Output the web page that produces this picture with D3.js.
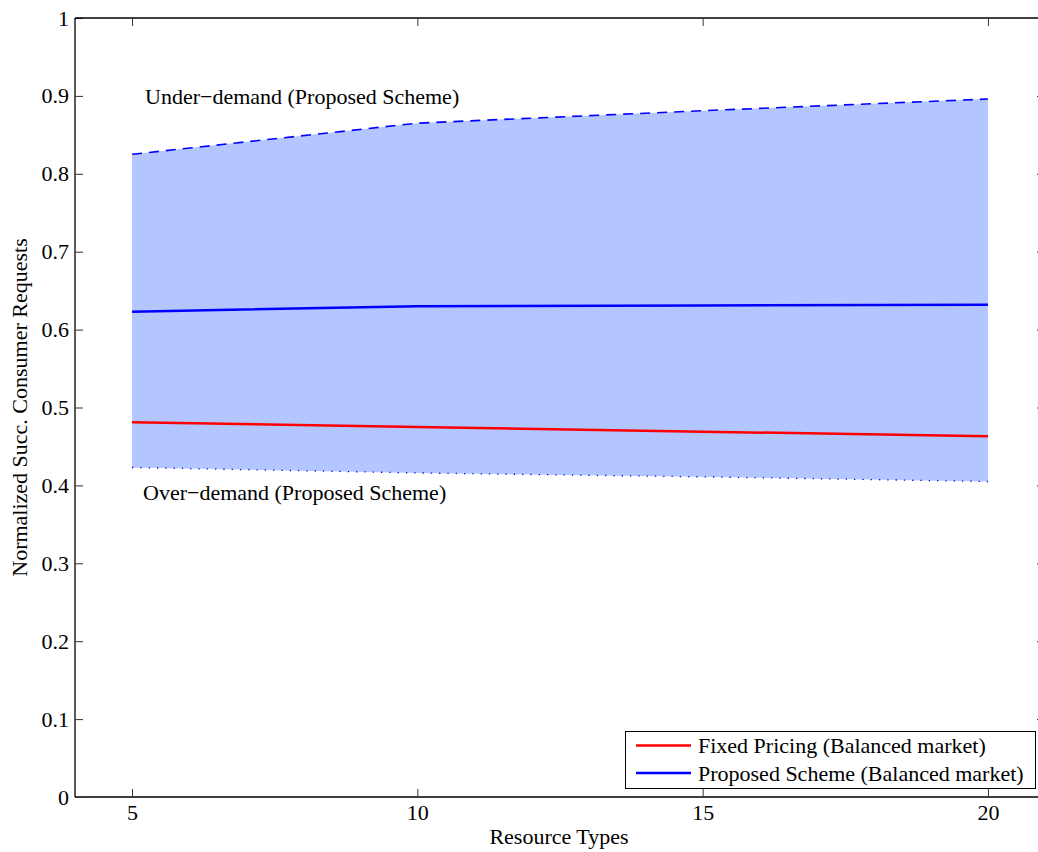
<!DOCTYPE html>
<html><head><meta charset="utf-8">
<script src="https://cdn.jsdelivr.net/npm/d3@7"></script>
<style>body{margin:0;background:#fff}svg{display:block}text{font-family:"Liberation Serif","DejaVu Serif",serif !important;fill:#000}</style>
</head><body><svg id="c" width="1038" height="852"></svg>
<script>
const resourceTypes = [5, 10, 15, 20];
const underDemand = [0.825, 0.865, 0.881, 0.896];
const overDemand = [0.423, 0.416, 0.411, 0.405];
const fixedPricing = [0.481, 0.475, 0.469, 0.463];
const proposedScheme = [0.623, 0.630, 0.631, 0.632];
const xTicks = [5, 10, 15, 20];
const yTicks = [0, 0.1, 0.2, 0.3, 0.4, 0.5, 0.6, 0.7, 0.8, 0.9, 1];

const svg = d3.select("#c");
const L = 75, R = 1045, T = 18, B = 797;
const x = d3.scaleLinear().domain([4, 21]).range([L, R]);
const y = d3.scaleLinear().domain([0, 1]).range([B, T]);

const band = resourceTypes.map((r, i) => ({r, hi: underDemand[i], lo: overDemand[i]}));
svg.append("path").datum(band)
  .attr("d", d3.area().x(d => x(d.r)).y0(d => y(d.lo)).y1(d => y(d.hi)))
  .attr("fill", "#b3c6ff").attr("stroke", "none");

const line = d3.line().x((d, i) => x(resourceTypes[i])).y(d => y(d));
svg.append("path").datum(underDemand).attr("d", line).attr("fill", "none")
  .attr("stroke", "#0000ff").attr("stroke-width", 1.6).attr("stroke-dasharray", "10,7");
svg.append("path").datum(overDemand).attr("d", line).attr("fill", "none")
  .attr("stroke", "#0000ff").attr("stroke-width", 1.3).attr("stroke-dasharray", "1.3,7");
svg.append("path").datum(fixedPricing).attr("d", line).attr("fill", "none")
  .attr("stroke", "#ff0000").attr("stroke-width", 2.5);
svg.append("path").datum(proposedScheme).attr("d", line).attr("fill", "none")
  .attr("stroke", "#0000ff").attr("stroke-width", 2.5);

// axes
const fs = 22;
const gx = svg.append("g").attr("transform", `translate(0,${B})`)
  .call(d3.axisBottom(x).tickValues(xTicks).tickSize(-8).tickPadding(8).tickFormat(d3.format("d")));
const gy = svg.append("g").attr("transform", `translate(${L},0)`)
  .call(d3.axisLeft(y).tickValues(yTicks).tickSize(-8).tickPadding(6).tickFormat(d => d === 0 ? "0" : d === 1 ? "1" : d3.format(".1f")(d)));
const gt = svg.append("g").attr("transform", `translate(0,${T})`)
  .call(d3.axisTop(x).tickValues(xTicks).tickSize(-8).tickFormat(""));
const gr = svg.append("g").attr("transform", `translate(${R},0)`)
  .call(d3.axisRight(y).tickValues(yTicks).tickSize(-8).tickFormat(""));
[gx, gy, gt, gr].forEach(g => {
  g.attr("font-family", null).attr("font-size", null);
  g.select(".domain").attr("stroke", "#000").attr("stroke-width", 1.3);
  g.selectAll(".tick line").attr("stroke", "#333").attr("stroke-width", 1);
  g.selectAll(".tick text").attr("font-size", fs).attr("fill", "#000");
});
gx.selectAll(".tick text").attr("dy", null).attr("y", 23);
gx.select(".domain").attr("d", `M${L},0H${R}`);
gt.select(".domain").attr("d", `M${L},0H${R}`);
gy.select(".domain").attr("d", `M0,${T}V${B}`);
gr.select(".domain").attr("d", `M0,${T}V${B}`);

// annotations
svg.append("text").attr("x", 145).attr("y", 104).attr("font-size", fs).text("Under\u2212demand (Proposed Scheme)");
svg.append("text").attr("x", 143).attr("y", 500).attr("font-size", fs).text("Over\u2212demand (Proposed Scheme)");

// axis labels
svg.append("text").attr("x", 559).attr("y", 844).attr("text-anchor", "middle").attr("font-size", fs).text("Resource Types");
svg.append("text").attr("transform", `translate(27,${(T + B) / 2}) rotate(-90)`).attr("text-anchor", "middle").attr("font-size", fs).text("Normalized Succ. Consumer Requests");

// legend
const legendNames = ["Fixed Pricing (Balanced market)", "Proposed Scheme (Balanced market)"];
const legendColors = ["#ff0000", "#0000ff"];
const lg = svg.append("g");
lg.append("rect").attr("x", 625.5).attr("y", 731.5).attr("width", 410).attr("height", 57)
  .attr("fill", "#fff").attr("stroke", "#000").attr("stroke-width", 1);
legendNames.forEach((n, i) => {
  const yy = 745.5 + i * 27.5;
  lg.append("line").attr("x1", 636).attr("x2", 691).attr("y1", yy).attr("y2", yy)
    .attr("stroke", legendColors[i]).attr("stroke-width", 2.5);
  lg.append("text").attr("x", 698).attr("y", yy + 7.5).attr("font-size", fs).text(n);
});
</script></body></html>
